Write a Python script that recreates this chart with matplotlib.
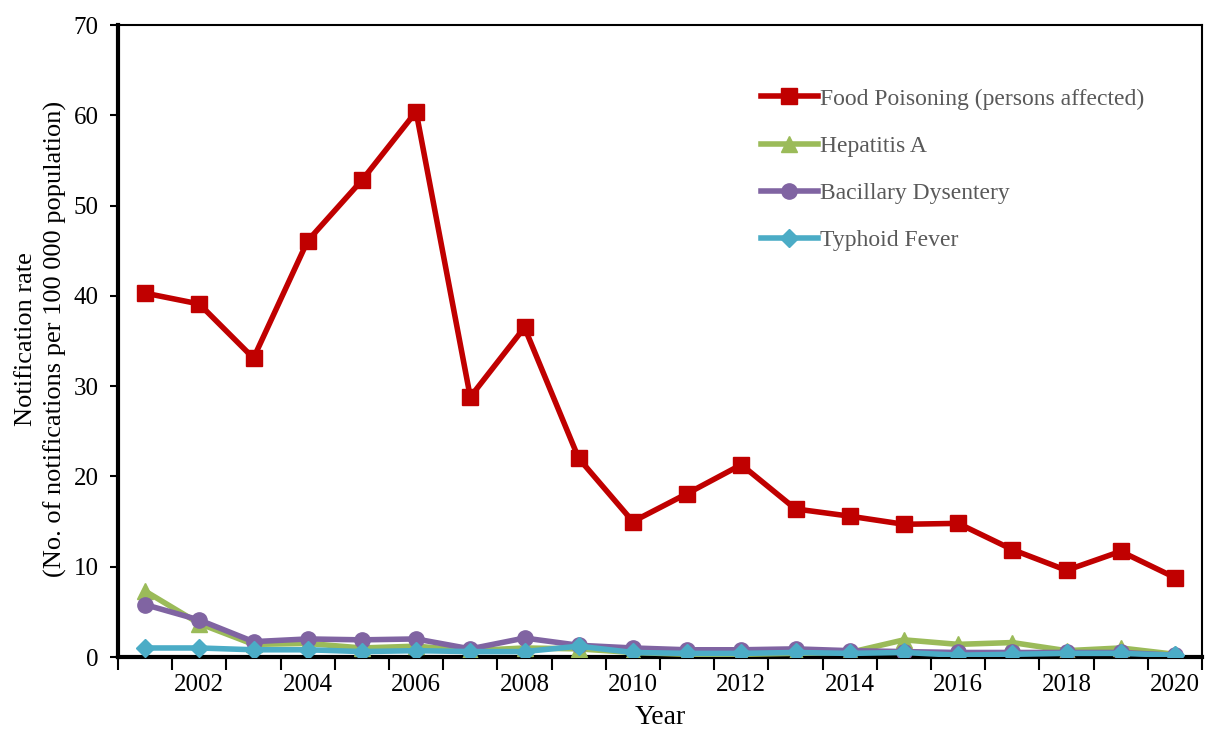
import matplotlib
matplotlib.use("Agg")
import matplotlib.pyplot as plt
import numpy as np

years = list(range(2001, 2021))
food_poisoning = [40.3, 39.1, 33.1, 46.1, 52.8, 60.4, 28.8, 36.5, 22.0, 15.0,
                  18.1, 21.3, 16.4, 15.6, 14.7, 14.8, 11.9, 9.6, 11.7, 8.8]
hepatitis_a = [7.3, 3.7, 1.4, 1.5, 1.0, 1.2, 0.7, 1.0, 0.9, 0.5,
               0.3, 0.3, 0.4, 0.5, 1.9, 1.4, 1.6, 0.7, 1.0, 0.3]
bacillary = [5.8, 4.1, 1.7, 2.0, 1.9, 2.0, 0.9, 2.1, 1.3, 1.0,
             0.8, 0.8, 0.9, 0.7, 0.6, 0.5, 0.5, 0.5, 0.5, 0.2]
typhoid = [1.0, 1.0, 0.8, 0.8, 0.6, 0.7, 0.6, 0.6, 1.2, 0.5,
           0.4, 0.4, 0.5, 0.4, 0.5, 0.2, 0.3, 0.4, 0.4, 0.2]
labels = ["Food Poisoning (persons affected)", "Hepatitis A",
          "Bacillary Dysentery", "Typhoid Fever"]

plt.rcParams['font.family'] = ['Liberation Serif', 'DejaVu Serif']

fig = plt.figure(figsize=(12.05, 7.31), dpi=100)
ax = fig.add_axes([118/1205, 1-657/731, (1202-118)/1205, (657-25)/731])

lw = 4
ax.plot(years, food_poisoning, color='#C00000', marker='s', markersize=11, lw=lw, label=labels[0], zorder=3)
ax.plot(years, hepatitis_a, color='#9BBB59', marker='^', markersize=12, lw=lw, label=labels[1], zorder=3)
ax.plot(years, bacillary, color='#8064A2', marker='o', markersize=11, lw=lw, label=labels[2], zorder=4)
ax.plot(years, typhoid, color='#4BACC6', marker='D', markersize=9, lw=lw, label=labels[3], zorder=5)

ax.set_xlim(2000.5, 2020.5)
ax.set_ylim(0, 70)
ax.set_yticks(np.arange(0, 71, 10))
ax.set_xticks(np.arange(2000.5, 2021, 1))
ax.set_xticklabels([])
ax.set_xticks(range(2002, 2021, 2), minor=True)
ax.set_xticklabels([str(y) for y in range(2002, 2021, 2)], minor=True)
ax.tick_params(axis='x', which='major', direction='out', length=9, width=1.5)
ax.tick_params(axis='x', which='minor', length=0, pad=12, labelsize=18)
ax.tick_params(axis='y', direction='out', length=6, width=1.5, labelsize=18, pad=8)

for s in ['left', 'bottom']:
    ax.spines[s].set_linewidth(3)
for s in ['top', 'right']:
    ax.spines[s].set_linewidth(1.5)

ax.set_xlabel('Year', fontsize=20, labelpad=7)
fig.text(41/1205, 1 - 339/731,
         'Notification rate\n(No. of notifications per 100 000 population)',
         rotation=90, ha='center', va='center', fontsize=19,
         linespacing=1.35, multialignment='center')

leg = ax.legend(loc='upper left', bbox_to_anchor=((761-118)/1084, (657-88)/632),
                frameon=False, fontsize=17, handlelength=2.4, labelspacing=1.09,
                handletextpad=0.1, borderaxespad=0, borderpad=0)
for t in leg.get_texts():
    t.set_color('#595959')

fig.savefig('out.png', dpi=100)
